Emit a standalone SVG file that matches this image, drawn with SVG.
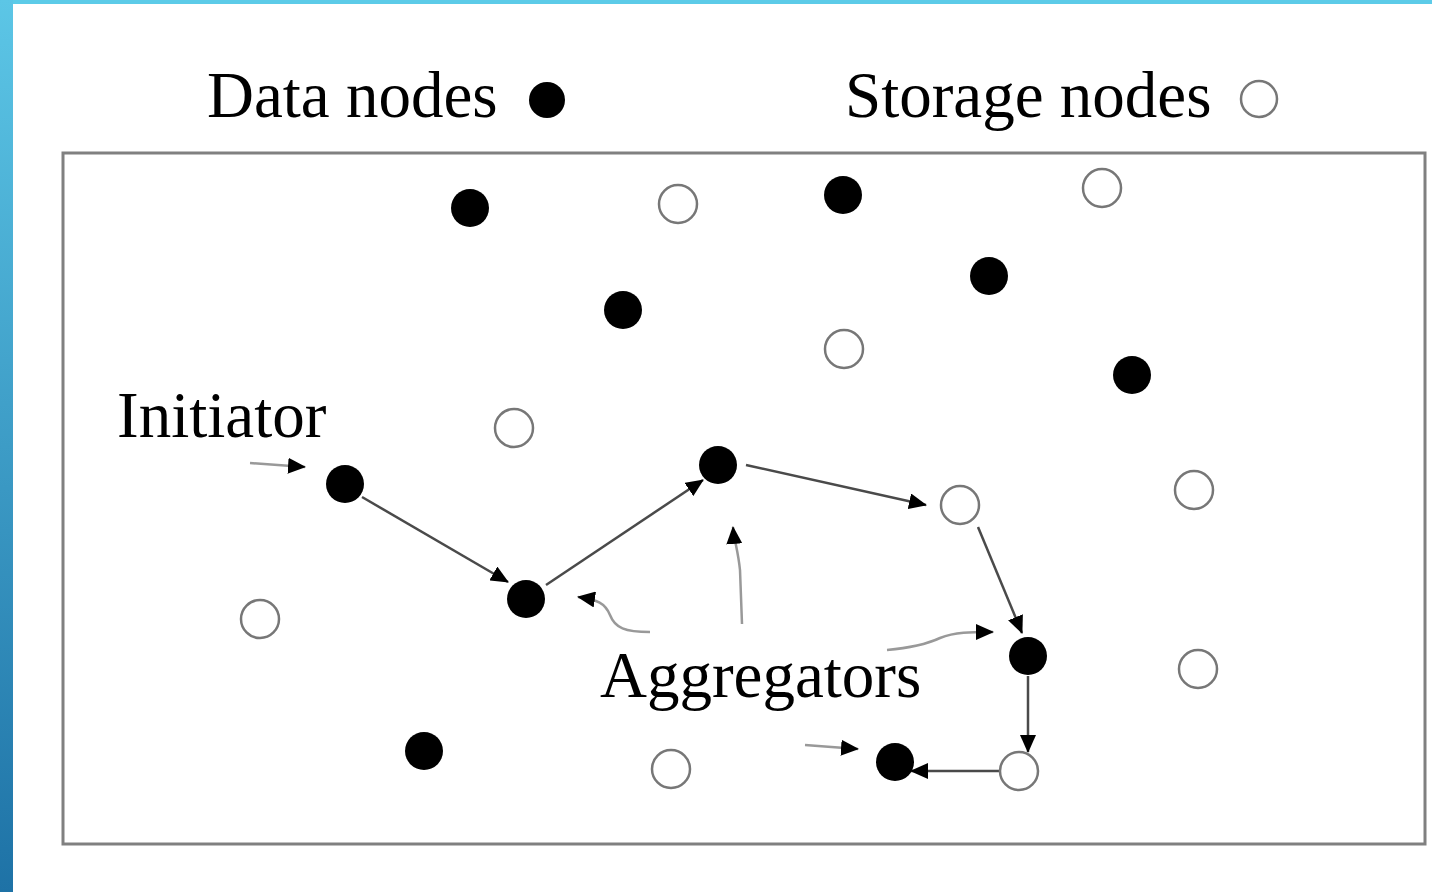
<svg xmlns="http://www.w3.org/2000/svg" width="1432" height="892" viewBox="0 0 1432 892">
<defs>
<linearGradient id="lb" x1="0" y1="0" x2="0" y2="1"><stop offset="0" stop-color="#5cc6e6"/><stop offset="1" stop-color="#1e72a6"/></linearGradient>
<marker id="ah" viewBox="0 0 18 16" refX="17" refY="8" markerWidth="18" markerHeight="16" markerUnits="userSpaceOnUse" orient="auto"><path d="M0,0 L18,8 L0,16 Z" fill="#000"/></marker>
</defs>
<style>
.t{font-family:"Liberation Serif","Times New Roman",serif;font-size:65px;fill:#000}
.d{fill:#000}
.s{fill:#fff;stroke:#777;stroke-width:2.5}
.e{fill:none;stroke:#4a4a4a;stroke-width:2.5;marker-end:url(#ah)}
.p{fill:none;stroke:#999;stroke-width:2.5;marker-end:url(#ah)}
</style>
<rect width="1432" height="892" fill="#fff"/>
<rect x="0" y="0" width="1432" height="4" fill="#5ccbe8"/>
<rect x="0" y="0" width="13" height="892" fill="url(#lb)"/>
<rect x="63" y="153" width="1362" height="691" fill="none" stroke="#808080" stroke-width="3"/>
<g id="legend">
<text class="t" x="207" y="117">Data nodes</text>
<circle class="d" cx="547" cy="100" r="18"/>
<text class="t" x="845" y="117">Storage nodes</text>
<circle class="s" cx="1259" cy="99" r="18"/>
</g>
<g id="labels">
<text class="t" x="117" y="437">Initiator</text>
<text class="t" x="600" y="697">Aggregators</text>
</g>
<g id="connectors">
<path class="p" d="M250,463 L305,467"/>
<path class="e" d="M362,497 L508,582"/>
<path class="e" d="M546,585 L703,480"/>
<path class="e" d="M746,465 L926,505"/>
<path class="e" d="M978,527 L1022,633"/>
<path class="e" d="M1028,676 L1028,752"/>
<path class="e" d="M1001,771 L911,771"/>
<path class="p" d="M650,632 C625,632 615,628 610,615 C605,603 598,600 578,597"/>
<path class="p" d="M742,624 L740,570 C738,550 734,540 733,527"/>
<path class="p" d="M887,650 C910,648 925,645 940,638 C955,632 970,632 993,632"/>
<path class="p" d="M805,745 L858,749"/>
</g>
<g id="data-nodes">
<circle id="d1" class="d" cx="470" cy="208" r="19"/>
<circle id="d2" class="d" cx="843" cy="195" r="19"/>
<circle id="d3" class="d" cx="623" cy="310" r="19"/>
<circle id="d4" class="d" cx="989" cy="276" r="19"/>
<circle id="d5" class="d" cx="1132" cy="375" r="19"/>
<circle id="d6" class="d" cx="345" cy="484" r="19"/>
<circle id="d7" class="d" cx="718" cy="465" r="19"/>
<circle id="d8" class="d" cx="526" cy="599" r="19"/>
<circle id="d9" class="d" cx="1028" cy="656" r="19"/>
<circle id="d10" class="d" cx="424" cy="751" r="19"/>
<circle id="d11" class="d" cx="895" cy="762" r="19"/>
</g>
<g id="storage-nodes">
<circle id="s1" class="s" cx="678" cy="204" r="19"/>
<circle id="s2" class="s" cx="1102" cy="188" r="19"/>
<circle id="s3" class="s" cx="844" cy="349" r="19"/>
<circle id="s4" class="s" cx="514" cy="428" r="19"/>
<circle id="s5" class="s" cx="960" cy="505" r="19"/>
<circle id="s6" class="s" cx="1194" cy="490" r="19"/>
<circle id="s7" class="s" cx="260" cy="619" r="19"/>
<circle id="s8" class="s" cx="1198" cy="669" r="19"/>
<circle id="s9" class="s" cx="671" cy="769" r="19"/>
<circle id="s10" class="s" cx="1019" cy="771" r="19"/>
</g>
</svg>
